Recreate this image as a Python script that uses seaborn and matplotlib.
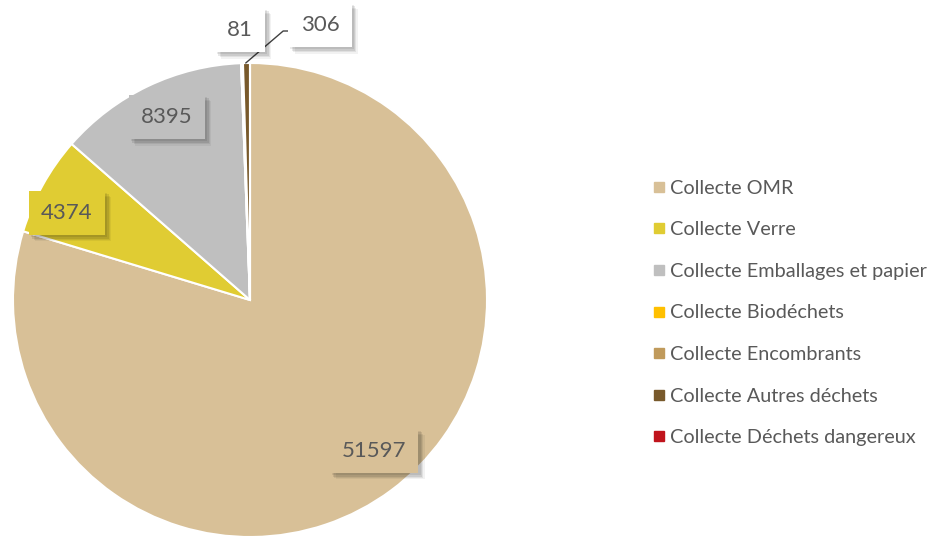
import matplotlib
matplotlib.use("Agg")
import matplotlib.pyplot as plt
from matplotlib.lines import Line2D
import matplotlib.patheffects as pe
import seaborn as sns

categories = [
    "Collecte OMR",
    "Collecte Verre",
    "Collecte Emballages et papier",
    "Collecte Biodéchets",
    "Collecte Encombrants",
    "Collecte Autres déchets",
    "Collecte Déchets dangereux",
]
tonnages = [51597, 4374, 8395, 0, 81, 306, 0]
colors = ["#D8C097", "#E0CC33", "#BFBFBF", "#FFC000", "#C09A5B", "#78592B", "#C0141C"]

# label box centres (pie radius = 1), None where no label is drawn
label_pos = [(0.523, -0.637), (-0.772, 0.367), (-0.350, 0.772), None,
             (-0.042, 1.139), (0.295, 1.160), None]
label_face = ["slice", "slice", "slice", None, "white", "white", None]

sns.set_theme(style="white")
plt.rcParams["font.family"] = ["Lato", "DejaVu Sans"]
TEXT = "#595959"

fig = plt.figure(figsize=(9.48, 5.42), dpi=100)
ax = fig.add_axes([13 / 948, 5 / 542, 474 / 948, 474 / 542])

wedges, _ = ax.pie(
    tonnages,
    colors=colors,
    startangle=90,
    counterclock=False,
    radius=1.0,
    wedgeprops=dict(edgecolor="white", linewidth=1.5),
)
ax.set_xlim(-1, 1)
ax.set_ylim(-1, 1)
ax.set_aspect("equal")
ax.axis("off")

shadow = [pe.SimplePatchShadow(offset=(o, -o), shadow_rgbFace="black", alpha=a)
          for o, a in ((4.5, 0.05), (3.5, 0.07), (2.5, 0.09), (1.5, 0.08))]
shadow.append(pe.Normal())

for val, pos, face, col in zip(tonnages, label_pos, label_face, colors):
    if pos is None:
        continue
    fc = col if face == "slice" else face
    t = ax.text(pos[0], pos[1], str(val), ha="center", va="center", fontsize=16,
                color=TEXT, zorder=5,
                bbox=dict(boxstyle="square,pad=0.55", fc=fc, ec="none"))
    t.get_bbox_patch().set_path_effects(shadow)

# leader line from the "Autres déchets" slice to its value
ax.plot([-0.018, 0.140, 0.198], [1.0, 1.135, 1.135], color="#404040", lw=1.0,
        zorder=3, clip_on=False)

handles = [Line2D([0], [0], marker="s", linestyle="none", markersize=7,
                  markerfacecolor=c, markeredgecolor=c) for c in colors]
leg = fig.legend(handles, categories, loc="center left",
                 bbox_to_anchor=(641 / 948, 1 - 313 / 542), frameon=False,
                 fontsize=14.3, labelcolor=TEXT, labelspacing=1.24,
                 handletextpad=0.05, handlelength=1.0, borderaxespad=0)

fig.savefig("out.png", dpi=100)
